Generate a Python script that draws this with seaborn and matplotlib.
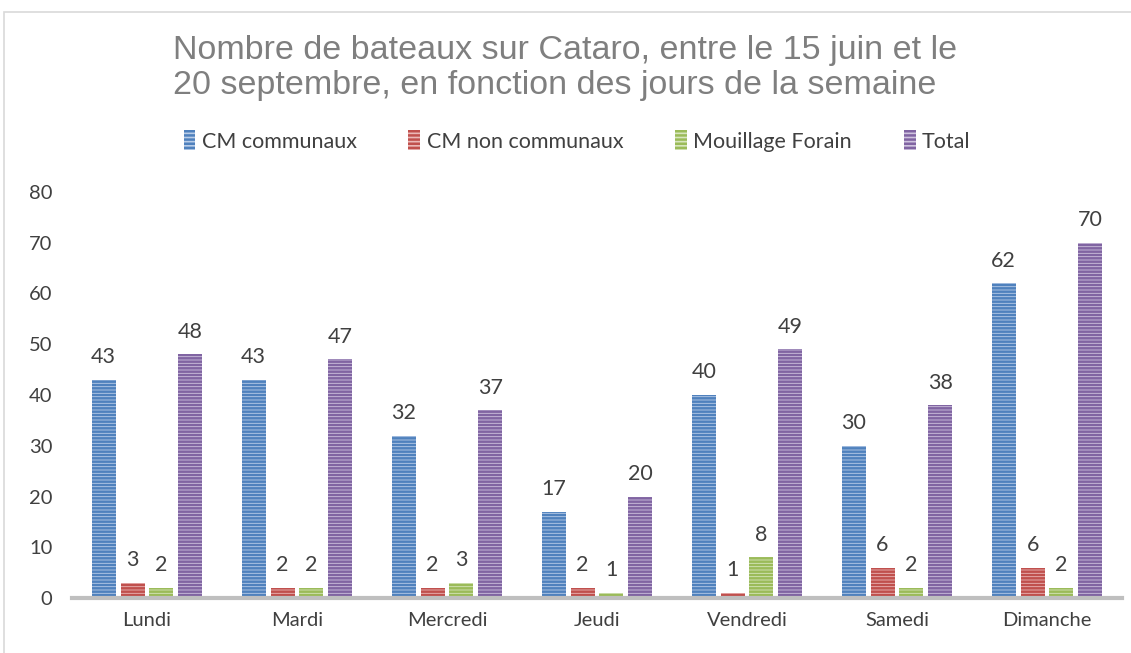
import matplotlib
matplotlib.use("Agg")
import matplotlib.pyplot as plt
import seaborn as sns
import pandas as pd
from matplotlib.patches import Patch, Rectangle

days = ["Lundi", "Mardi", "Mercredi", "Jeudi", "Vendredi", "Samedi", "Dimanche"]
series = ["CM communaux", "CM non communaux", "Mouillage Forain", "Total"]
cm_communaux = [43, 43, 32, 17, 40, 30, 62]
cm_non_communaux = [3, 2, 2, 2, 1, 6, 6]
mouillage_forain = [2, 2, 3, 1, 8, 2, 2]
total = [48, 47, 37, 20, 49, 38, 70]
y_ticks = [0, 10, 20, 30, 40, 50, 60, 70, 80]

edge_colors = ["#4F81BD", "#C0504D", "#9BBB59", "#8064A2"]
face_colors = ["#B9CDE8", "#EBB8B7", "#D8E6BF", "#CFC3DF"]

rows = []
for name, vals in zip(series, [cm_communaux, cm_non_communaux, mouillage_forain, total]):
    for d, v in zip(days, vals):
        rows.append({"Jour": d, "Série": name, "Valeur": v})
df = pd.DataFrame(rows)

sns.set_theme(style="white")
plt.rcParams["font.family"] = ["Liberation Sans", "DejaVu Sans"]
plt.rcParams["hatch.linewidth"] = 1.8

fig = plt.figure(figsize=(11.31, 6.53), dpi=100)
W, H = 1131, 653
ax = fig.add_axes([72 / W, 1 - 598 / H, (1122 - 72) / W, (598 - 192) / H])

sns.barplot(data=df, x="Jour", y="Valeur", hue="Série", order=days, hue_order=series,
            palette=face_colors, width=0.77, gap=0.17, ax=ax, legend=False,
            saturation=1, linewidth=0)

lab_font = ["Lato", "DejaVu Sans"]
for i, cont in enumerate(ax.containers):
    for bar in cont:
        bar.set_hatch("-----")
        bar.set_edgecolor(edge_colors[i])
        bar.set_linewidth(0)
    ax.bar_label(cont, padding=9, fontsize=15.5, color="#404040", family=lab_font)

ax.set_ylim(0, 80)
ax.set_xlim(-0.5, 6.5)
ax.set_yticks(y_ticks)
ax.set_xlabel("")
ax.set_ylabel("")
for s in ["top", "right", "left"]:
    ax.spines[s].set_visible(False)
ax.spines["bottom"].set_color("#BFBFBF")
ax.spines["bottom"].set_linewidth(3)
ax.tick_params(axis="both", length=0, labelsize=14.5, labelcolor="#404040")
ax.tick_params(axis="x", pad=10)
ax.tick_params(axis="y", pad=14)
for lab in ax.get_xticklabels() + ax.get_yticklabels():
    lab.set_family(lab_font)

fig.text(0.5, 1 - 68 / H,
         "Nombre de bateaux sur Cataro, entre le 15 juin et le\n20 septembre, en fonction des jours de la semaine",
         ha="center", va="center", multialignment="left", fontsize=24.5, color="#7F7F7F",
         linespacing=1.15, family=["Liberation Sans", "DejaVu Sans"])

handles = [Patch(facecolor=face_colors[i], edgecolor=edge_colors[i], hatch="----",
                 linewidth=0, label=series[i]) for i in range(4)]
leg = fig.legend(handles=handles, loc="center", bbox_to_anchor=(577 / W, 1 - 141 / H),
                 ncol=4, frameon=False, handlelength=0.55, handleheight=1.0,
                 handletextpad=0.3, columnspacing=2.4, prop={"family": lab_font, "size": 15.5})
for t in leg.get_texts():
    t.set_color("#404040")

fig.patches.append(Rectangle((4 / W, -0.1), 1.2, 1 - 12 / H + 0.1, transform=fig.transFigure,
                             fill=False, edgecolor="#D9D9D9", linewidth=1.2))

fig.savefig("out.png", dpi=100)
